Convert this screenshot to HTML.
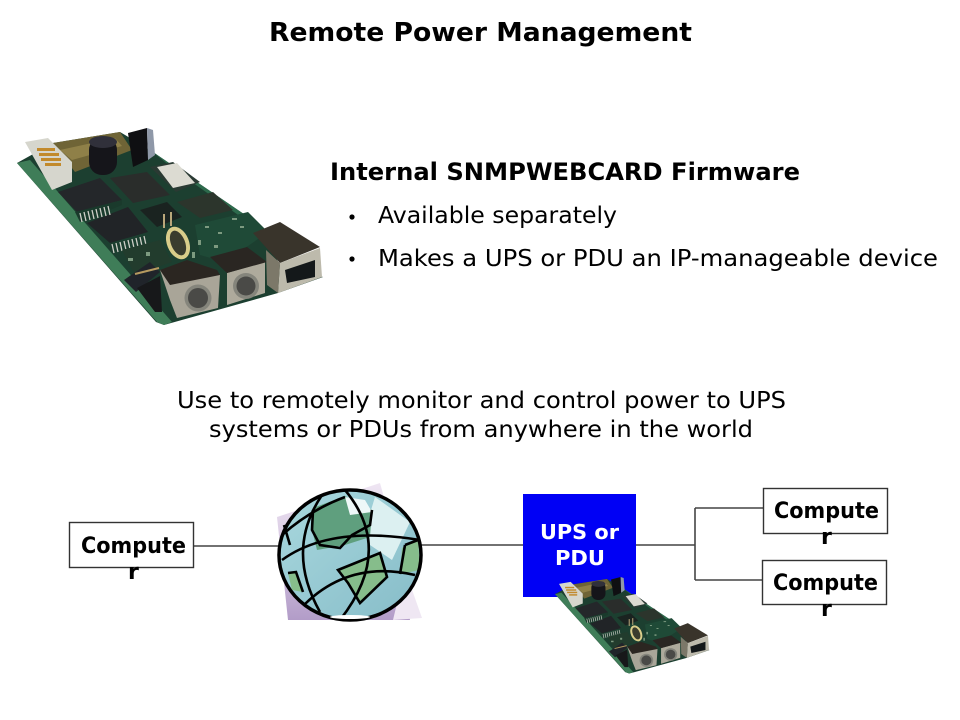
<!DOCTYPE html>
<html lang="en">
<head>
<meta charset="utf-8">
<title>Remote Power Management</title>
<style>
html,body{margin:0;padding:0;background:#fff;width:960px;height:720px;overflow:hidden}
svg{display:block}
text{font-family:"DejaVu Sans","Liberation Sans",sans-serif;fill:#000}
.b{font-weight:700}
</style>
</head>
<body>
<svg width="960" height="720" viewBox="0 0 960 720" xmlns="http://www.w3.org/2000/svg">
<defs>
<linearGradient id="lav" x1="0" y1="0" x2="0" y2="1">
<stop offset="0" stop-color="#efe6f3"/><stop offset=".55" stop-color="#d3c3df"/><stop offset="1" stop-color="#b29cc8"/>
</linearGradient>
<linearGradient id="sea" x1="0" y1="0" x2="1" y2="1">
<stop offset="0" stop-color="#a9d8de"/><stop offset="1" stop-color="#86bcc8"/>
</linearGradient>
<g id="board">
<polygon points="17,163 53,143 120,132 150,150 257,223 280,265 323,277 278,293 164,325 156,322" fill="#1c3f30"/>
<polygon points="17,163 157,322 164,325 172,322 30,160" fill="#3f7d58"/>
<polygon points="150,150 257,223 262,232 175,170" fill="#2d6a4c"/>
<polygon points="53,143 120,132 132,150 75,172" fill="#6f6436"/>
<polygon points="60,150 115,138 122,146 72,160" fill="#8f8048"/>
<polygon points="25,142 48,138 72,162 72,182 52,190" fill="#d6d6cd"/>
<g fill="#c28a2c"><rect x="37" y="148" width="18" height="3"/><rect x="39" y="153" width="20" height="3"/><rect x="41" y="158" width="20" height="3"/><rect x="45" y="163" width="16" height="3"/></g>
<rect x="89" y="137" width="28" height="38" rx="13" fill="#15151a"/>
<ellipse cx="103" cy="142" rx="14" ry="6" fill="#30303a"/>
<polygon points="128,133 147,128 148,160 133,167" fill="#0f0f12"/>
<polygon points="147,128 153,130 155,155 148,160" fill="#8f98a8"/>
<polygon points="58,192 100,178 122,200 77,212" fill="#24272a"/>
<polygon points="87,223 128,207 148,232 110,243" fill="#212427"/>
<polygon points="110,178 147,172 170,195 133,203" fill="#2a2d2b"/>
<polygon points="150,167 173,162 200,182 176,192" fill="#2a3a33"/>
<polygon points="157,167 177,163 195,183 173,188" fill="#dcdbd2"/>
<polygon points="177,202 213,192 233,210 200,218" fill="#2c352c"/>
<polygon points="140,210 167,202 182,217 157,227" fill="#1a2320"/>
<polygon points="75,212 122,200 122,205 80,222" fill="#1a3a2c"/>
<path d="M80 213l2 9M84 212l2 9M88 211l2 9M92 210l2 9M96 209l2 9M100 208l2 9M104 207l2 9M108 206l2 9" stroke="#cfcfc8" stroke-width="1.3"/>
<path d="M112 244l2 9M116 243l2 9M120 242l2 9M124 241l2 9M128 240l2 9M132 239l2 9M136 238l2 9M140 237l2 9M144 236l2 9" stroke="#cfcfc8" stroke-width="1.3"/>
<polygon points="122,250 160,240 172,262 135,275" fill="#223c2d"/>
<polygon points="195,225 248,212 268,232 225,262 200,255" fill="#1f4a37"/>
<g fill="#7d9a80"><rect x="205" y="226" width="4" height="2"/><rect x="218" y="232" width="4" height="2"/><rect x="232" y="218" width="5" height="2"/><rect x="198" y="240" width="3" height="5"/><rect x="214" y="245" width="4" height="3"/><rect x="240" y="226" width="4" height="2"/><rect x="128" y="258" width="5" height="3"/><rect x="146" y="252" width="4" height="4"/><rect x="192" y="252" width="3" height="6"/></g>
<polygon points="124,280 150,262 160,272 136,292" fill="#20242a"/>
<polygon points="137,288 160,276 162,312 155,312" fill="#17181a"/>
<ellipse cx="178" cy="243" rx="11" ry="17" transform="rotate(-22 178 243)" fill="#d9cd8a"/>
<ellipse cx="178" cy="243" rx="7" ry="13" transform="rotate(-22 178 243)" fill="#3a3c2e"/>
<path d="M164 214v14M171 212v14" stroke="#b9a77a" stroke-width="2"/>
<path d="M135 274l24-6" stroke="#b69a60" stroke-width="2"/>
<polygon points="160,270 220,275 218,308 177,318 170,300" fill="#a9a598"/>
<polygon points="160,270 187,260 217,270 220,275 170,285" fill="#2b2621"/>
<circle cx="198" cy="298" r="13.5" fill="#85857c"/><circle cx="198" cy="298" r="10" fill="#4a4a47"/>
<polygon points="227,273 265,262 265,293 227,305" fill="#aeaa9c"/>
<polygon points="210,257 247,247 267,262 227,273" fill="#2a2622"/>
<circle cx="247" cy="287" r="13" fill="#85857c" transform="translate(-1 -1)"/><circle cx="246" cy="286" r="9.5" fill="#4a4a47"/>
<polygon points="253,233 280,222 320,247 280,263" fill="#39342b"/>
<polygon points="280,263 320,248 322,277 278,293" fill="#bdbaac"/>
<polygon points="285,270 315,260 315,277 287,283" fill="#14181a"/>
<polygon points="266,250 280,263 278,293 267,285" fill="#7c7869"/>
</g>
</defs>

<text class="b" x="269" y="41" font-size="26" textLength="423" lengthAdjust="spacingAndGlyphs">Remote Power Management</text>

<use href="#board"/>

<text class="b" x="330" y="180" font-size="24" textLength="470" lengthAdjust="spacingAndGlyphs">Internal SNMPWEBCARD Firmware</text>
<circle cx="352" cy="217" r="2.6" fill="#000"/>
<text x="378" y="223" font-size="23" textLength="239" lengthAdjust="spacingAndGlyphs">Available separately</text>
<circle cx="352" cy="259" r="2.6" fill="#000"/>
<text x="378" y="266" font-size="23" textLength="560" lengthAdjust="spacingAndGlyphs">Makes a UPS or PDU an IP-manageable device</text>

<text x="177" y="408" font-size="23" textLength="609" lengthAdjust="spacingAndGlyphs">Use to remotely monitor and control power to UPS</text>
<text x="209" y="437" font-size="23" textLength="544" lengthAdjust="spacingAndGlyphs">systems or PDUs from anywhere in the world</text>

<g stroke="#444" stroke-width="1.6" fill="none">
<path d="M193 546H280"/>
<path d="M420 545H523"/>
<path d="M636 545H695"/>
<path d="M695 508V580"/>
<path d="M695 508H763"/>
<path d="M695 580H762"/>
</g>

<rect x="69.5" y="522.5" width="124" height="45" fill="#fff" stroke="#333" stroke-width="1.4"/>
<text class="b" x="81" y="553" font-size="22" textLength="105" lengthAdjust="spacingAndGlyphs">Compute</text>
<text class="b" x="128" y="579" font-size="22">r</text>

<rect x="763.5" y="488.5" width="124" height="45" fill="#fff" stroke="#333" stroke-width="1.4"/>
<text class="b" x="774" y="518" font-size="22" textLength="105" lengthAdjust="spacingAndGlyphs">Compute</text>
<text class="b" x="821" y="544" font-size="22">r</text>

<rect x="762.5" y="560.5" width="124" height="44" fill="#fff" stroke="#333" stroke-width="1.4"/>
<text class="b" x="773" y="590" font-size="22" textLength="105" lengthAdjust="spacingAndGlyphs">Compute</text>
<text class="b" x="821" y="616" font-size="22">r</text>

<!-- Globe -->
<polygon points="277,517 380,483 396,540 410,620 288,620" fill="url(#lav)"/>
<polygon points="393,620 405,570 422,618" fill="#efe7f3"/>
<ellipse cx="350" cy="555" rx="71" ry="65" fill="url(#sea)"/>
<path d="M375 497 L410 522 L392 560 L370 545 L368 520Z" fill="#dcf0f1"/>
<path d="M313 508 L345 496 L372 510 L370 537 L345 545 L317 550 L312 530Z" fill="#5f9f7e"/>
<path d="M338 570 L380 553 L387 577 L360 603 L348 583Z" fill="#86bd8b"/>
<path d="M402 548 L418 538 L420 570 L400 574Z" fill="#86bd8b"/>
<path d="M288 573 L296 572 L303 592 L292 590Z" fill="#86bd8b"/>
<path d="M345 497 L365 500 L372 512 L350 515Z" fill="#eef8f8"/>
<ellipse cx="350" cy="555" rx="71" ry="65" fill="none" stroke="#000" stroke-width="3.5"/>
<g fill="none" stroke="#000" stroke-width="2.6">
<path d="M282 560 Q330 525 420 540"/>
<path d="M305 604 Q350 560 415 575"/>
<path d="M282 535 Q310 510 345 497"/>
<path d="M345 490 Q395 550 340 620"/>
<path d="M322 495 Q285 550 320 612"/>
<path d="M313 510 L312 530 L320 545 L340 548 L352 535 L370 525 L372 510"/>
<path d="M338 570 L380 553 L387 577 L360 603 L348 583 Z"/>
<path d="M405 545 L418 540 M400 574 L405 545"/>
<path d="M288 573 L296 572 L303 592"/>
<path d="M284 525 L290 545"/>
</g>
<ellipse cx="350" cy="617" rx="20" ry="2" fill="#fff"/>

<!-- Blue UPS box -->
<rect x="523" y="494" width="113" height="103" fill="#0000f5"/>
<text class="b" x="540" y="539" font-size="20" style="fill:#fff" textLength="79" lengthAdjust="spacingAndGlyphs">UPS or</text>
<text class="b" x="555" y="565" font-size="20" style="fill:#fff" textLength="50" lengthAdjust="spacingAndGlyphs">PDU</text>

<use href="#board" transform="translate(546.4 514.3) scale(.505 .49)"/>
</svg>
</body>
</html>
